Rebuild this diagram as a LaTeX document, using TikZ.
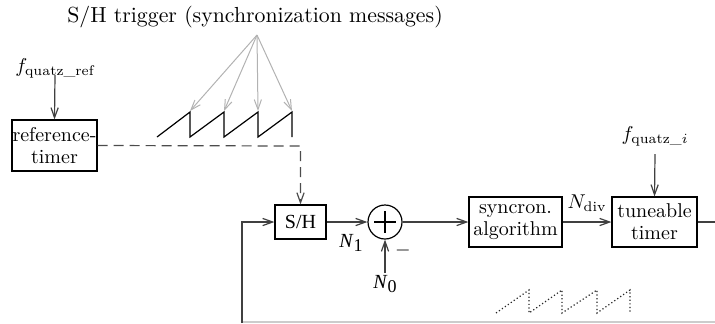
\documentclass[tikz,border=0pt]{standalone}
\usepackage{amsmath}
\usepackage{fontspec}
\newfontfamily\tms{Liberation Serif}
\usetikzlibrary{arrows.meta}
\begin{document}
\begin{tikzpicture}[x=0.5pt,y=-0.5pt,
  tip/.style={-{Straight Barb[length=5pt,width=3.6pt]}},
  conn/.style={draw=black!75,line width=0.6pt,tip},
  blk/.style={draw,line width=0.6pt,inner sep=0pt,align=center,font=\normalsize},
  lbl/.style={inner sep=0pt},
  trig/.style={draw=black!30,line width=0.5pt,tip},
]
\useasboundingbox (0,0) rectangle (715,323);
% title
\node[lbl,font=\fontsize{10.9}{13}\selectfont] (title) at (255,17) {S/H trigger (synchronization messages)};
% reference timer
\node[blk,minimum width=42.5pt,minimum height=25.5pt] (reft) at (54.5,145.5) {reference-\\[-1pt]timer};
\node[lbl] (fref) at (55,68) {$f_{\mathrm{quatz\_ref}}$};
\draw[conn] (fref.south) ++(0,-3) -- (reft.north);
% S/H
\node[blk,minimum width=25.5pt,minimum height=17pt,font=\tms] (sh) at (300.5,222) {S/H};
\draw[draw=black!70,line width=0.6pt,dash pattern=on 5pt off 3pt,tip] (reft.east) -- (300.5,146) -- (sh.north);
% sum
\node[draw,circle,line width=0.6pt,minimum size=17pt,inner sep=0pt] (sum) at (385,222) {};
\draw[line width=0.6pt] (sum.center) ++(-11,0) -- ++(22,0);
\draw[line width=0.6pt] (sum.center) ++(0,-11) -- ++(0,22);
\draw[conn] (sh.east) -- (sum.west);
\node[lbl,font=\tms] (n1) at (351,243) {\textit{N}\raisebox{-0.45ex}{\small 1}};
\node[lbl,font=\tms] (n0) at (385,284) {\textit{N}\raisebox{-0.45ex}{\small 0}};
\node[lbl] (minus) at (403,250) {$-$};
\draw[conn] (385,273) -- (sum.south);
% syncron
\node[blk,minimum width=46.5pt,minimum height=25pt] (sync) at (515.5,222) {syncron.\\[-1pt]algorithm};
\draw[conn] (sum.east) -- (sync.west);
% tuneable timer
\node[blk,minimum width=42.5pt,minimum height=25pt] (tune) at (654.5,222) {tuneable\\[-1pt]timer};
\draw[conn] (sync.east) -- (tune.west);
\node[lbl] (ndiv) at (587,203) {$N_{\mathrm{div}}$};
\node[lbl] (fi) at (655,136) {$f_{\mathrm{quatz\_}i}$};
\draw[conn] (655,154) -- (tune.north);
% feedback
\coordinate (outr) at (715,222);
\coordinate (br) at (715,322);
\coordinate (bl) at (242,322);
\draw[draw=black!75,line width=0.6pt] (tune.east) -- (outr);
\draw[draw=black!20,line width=0.6pt] (br) -- (bl);
\draw[conn] (242,323) -- (242,222) -- (sh.west);
% solid sawtooth
\draw[line width=0.6pt] (157,137) -- (190,112) -- (190,137) -- (224,112) -- (224,137) -- (258,112) -- (258,137) -- (292,112) -- (292,137);
\coordinate (src) at (257,35);
\coordinate (p1) at (190,111);
\coordinate (p2) at (224,111);
\coordinate (p3) at (258,111);
\coordinate (p4) at (292,111);
\foreach \p in {p1,p2,p3,p4} \draw[trig] (src) -- (\p);
% dotted sawtooth
\draw[line width=0.6pt,black!85,dash pattern=on 0.6pt off 1.2pt] (496,313) -- (529,290) -- (529,313) -- (562,290) -- (562,313) -- (597,290) -- (597,313) -- (630,290) -- (630,313);
\end{tikzpicture}
\end{document}
